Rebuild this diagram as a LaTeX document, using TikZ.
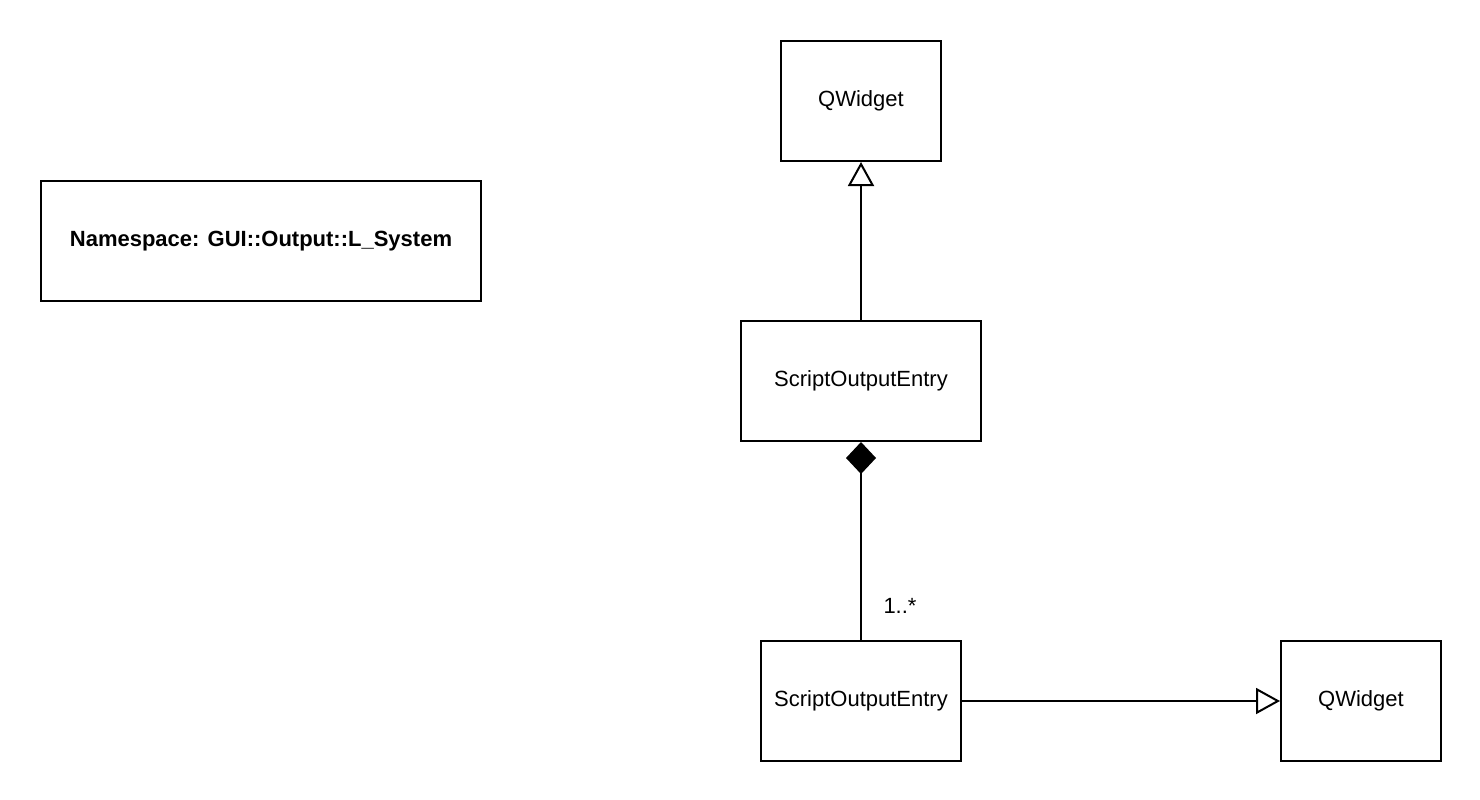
\documentclass[tikz,border=0pt]{standalone}
\usepackage{fontspec}
\setmainfont{Liberation Sans}
\usetikzlibrary{arrows.meta}
\begin{document}
\begin{tikzpicture}[x=1pt,y=-1pt,
  every node/.style={font=\fontsize{22}{26}\selectfont},
  cls/.style={draw=black,line width=2pt,fill=white,inner sep=0pt,anchor=north west},
  link/.style={line width=2pt},
  inherit/.style={link,-{Triangle[open,length=24pt,width=26pt,line width=2pt]}},
  compose/.style={link,{Diamond[fill=black,length=32pt,width=30pt]}-}]
  \useasboundingbox[fill=white] (0,0) rectangle (1480,800);

  % package note
  \node[cls,minimum width=440pt,minimum height=120pt] (ns) at (40,180)
    {\textbf{Namespace: GUI::Output::L\_System}};

  % classes
  \node[cls,minimum width=160pt,minimum height=120pt] (qtop) at (780,40) {QWidget};
  \node[cls,minimum width=240pt,minimum height=120pt] (soe) at (740,320) {ScriptOutputEntry};
  \node[cls,minimum width=200pt,minimum height=120pt] (soeb) at (760,640) {ScriptOutputEntry};
  \node[cls,minimum width=160pt,minimum height=120pt] (qright) at (1280,640) {QWidget};

  % relations
  \draw[inherit] (soe.north) -- (qtop.south);
  \draw[compose] (soe.south) -- (soeb.north);
  \draw[inherit] (soeb.east) -- (qright.west);

  \node[anchor=center] (mult) at (900,606) {1..*};
\end{tikzpicture}
\end{document}
